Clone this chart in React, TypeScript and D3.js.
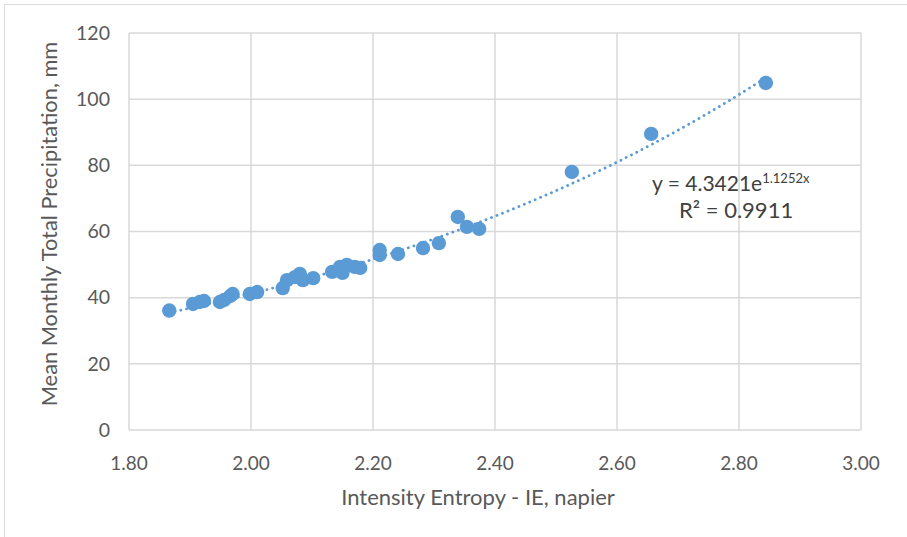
import React from "react";
import * as d3 from "d3";

const ieValues = [
  1.866, 1.905, 1.916, 1.923, 1.949, 1.956, 1.966, 1.970, 1.998, 2.010,
  2.052, 2.059, 2.072, 2.080, 2.085, 2.102, 2.133, 2.146, 2.150, 2.157,
  2.170, 2.179, 2.211, 2.211, 2.241, 2.282, 2.308, 2.339, 2.354, 2.374,
  2.526, 2.656, 2.844,
];
const precipValues = [
  36.1, 38.1, 38.7, 39.0, 38.7, 39.3, 40.5, 41.1, 41.1, 41.7,
  42.9, 45.3, 46.2, 47.2, 45.3, 45.9, 47.8, 49.3, 47.5, 49.9,
  49.3, 49.0, 54.4, 52.9, 53.2, 55.0, 56.5, 64.4, 61.4, 60.8,
  78.0, 89.5, 104.9,
];
const xTicks = [1.8, 2.0, 2.2, 2.4, 2.6, 2.8, 3.0];
const yTicks = [0, 20, 40, 60, 80, 100, 120];
const trendA = 4.3421;
const trendB = 1.1252;
const rSquared = "0.9911";

const W = 907;
const H = 537;
const FONT = "Lato, 'Open Sans', sans-serif";
const BLUE = "#5B9BD5";

export default function App() {
  const x = d3.scaleLinear().domain([1.8, 3.0]).range([129, 861]);
  const y = d3.scaleLinear().domain([0, 120]).range([430, 33]);

  const xMin = d3.min(ieValues) as number;
  const xMax = d3.max(ieValues) as number;
  const trendPts = d3.range(0, 201).map((i) => {
    const xv = xMin + ((xMax - xMin) * i) / 200;
    return [xv, trendA * Math.exp(trendB * xv)] as [number, number];
  });
  const line = d3
    .line<[number, number]>()
    .x((d) => x(d[0]))
    .y((d) => y(d[1]));

  return (
    <svg
      width={W}
      height={H}
      style={{ position: "absolute", left: 0, top: 0, background: "#fff" }}
      fontFamily={FONT}
    >
      <rect x={0} y={0} width={W} height={H} fill="#fff" />
      <rect x={4.5} y={4.5} width={W + 10} height={H + 10} fill="none" stroke="#d9d9d9" strokeWidth={1} />
      {/* grid */}
      {yTicks.map((t) => (
        <line key={"gy" + t} x1={x(1.8)} x2={x(3.0)} y1={y(t)} y2={y(t)} stroke="#d9d9d9" strokeWidth={1.5} />
      ))}
      {xTicks.map((t) => (
        <line key={"gx" + t} x1={x(t)} x2={x(t)} y1={y(0)} y2={y(120)} stroke="#d9d9d9" strokeWidth={1.5} />
      ))}
      {/* tick labels */}
      {yTicks.map((t) => (
        <text key={"ly" + t} x={110} y={y(t)} dy="0.35em" textAnchor="end" fontSize={19.5} fill="#595959">
          {t}
        </text>
      ))}
      {xTicks.map((t) => (
        <text key={"lx" + t} x={x(t)} y={463} dy="0.35em" textAnchor="middle" fontSize={19} fill="#595959">
          {t.toFixed(2)}
        </text>
      ))}
      {/* axis titles */}
      <text x={478} y={497} dy="0.35em" textAnchor="middle" fontSize={22} fill="#595959">
        Intensity Entropy - IE, napier
      </text>
      <text
        transform={`translate(49, 224) rotate(-90)`}
        dy="0.35em"
        textAnchor="middle"
        fontSize={21.8}
        fill="#595959"
      >
        Mean Monthly Total Precipitation, mm
      </text>
      {/* points */}
      {ieValues.map((v, i) => (
        <circle key={"p" + i} cx={x(v)} cy={y(precipValues[i])} r={7.2} fill={BLUE} />
      ))}
      {/* trendline */}
      <path
        d={line(trendPts) || ""}
        fill="none"
        stroke={BLUE}
        strokeWidth={2.8}
        strokeDasharray="0.1 5.8"
        strokeLinecap="round"
      />
      {/* equation */}
      <text x={652} y={191} fontSize={21} fill="#404040">
        y = 4.3421e
        <tspan fontSize={13} dy={-8}>{`${trendB}x`}</tspan>
      </text>
      <text x={679} y={218} fontSize={22} fill="#404040">
        R² = {rSquared}
      </text>
    </svg>
  );
}
